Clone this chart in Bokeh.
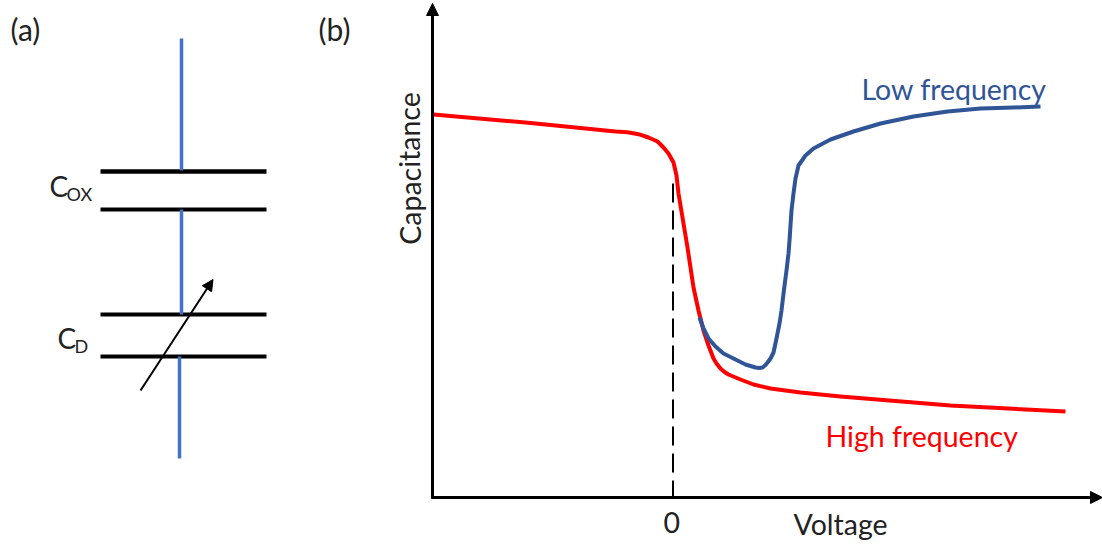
from bokeh.plotting import figure
from bokeh.embed import file_html
from bokeh.resources import INLINE
from bokeh.models import Range1d, Arrow, NormalHead
from bokeh.core.properties import value

# Picture-space values (voltage to the right, capacitance up = smaller y)
high_x = [433, 525, 615, 627, 638, 648, 657, 663, 668, 673, 676, 678, 682, 687, 693, 698, 703, 708, 713, 716, 720, 724, 728, 740, 753, 770, 800, 840, 950, 1065]
high_y = [114, 122, 131, 131.7, 133.7, 137, 141, 147, 153, 162, 175, 193, 217, 247, 287, 310, 330, 345, 358, 363, 368, 371.5, 374, 379, 384, 388, 392, 396, 405, 411]
low_x = [699, 703, 708, 715, 723, 733, 745, 755, 759, 762, 765, 767, 770, 773, 776, 779, 781, 783, 786, 788, 789, 790, 791, 793, 795, 798, 805, 813, 830, 853, 880, 913, 947, 980, 1013, 1040]
low_y = [317, 328, 338, 346, 353, 358, 364, 367, 367.5, 367, 364.5, 362, 358, 352, 338, 323, 310, 293, 270, 253, 240, 225, 210, 193, 178, 165, 155, 148, 139, 131, 123, 116, 111, 108, 107, 106]
zero_x = [672.5, 672.5]
zero_y = [183, 497]
plate_x = [[100, 266], [100, 266], [100, 266], [100, 266]]
plate_y = [[171, 171], [209, 209], [314, 314], [356, 356]]
plate_w = [4.5, 4, 4, 4]
wire_x = [[181, 181], [181, 181], [179, 179]]
wire_y = [[38, 170], [209, 314], [356, 458]]
labels = ["Voltage", "0", "Low frequency", "High frequency"]
label_x = [793, 663, 861, 825]
label_y = [523, 522, 88, 435]
label_c = ["#222222", "#222222", "#2F5597", "#FF0000"]
panels = ["(a)", "(b)"]
panel_x = [10, 318]
panel_y = [28, 28]

FONT = value("Lato")
p = figure(width=1102, height=550, output_backend="svg", toolbar_location=None,
           x_range=Range1d(0, 1102), y_range=Range1d(550, 0), min_border=0)
p.xaxis.visible = False
p.yaxis.visible = False
p.grid.visible = False
p.outline_line_color = None

# (a) circuit
for xs, ys, w in zip(plate_x, plate_y, plate_w):
    p.line(xs, ys, line_color="black", line_width=w)
p.multi_line(wire_x, wire_y, line_color="#4472C4", line_width=3.5)
p.add_layout(Arrow(end=NormalHead(size=11, fill_color="black", line_color="black"),
                   x_start=140, y_start=390, x_end=212.5, y_end=279,
                   line_color="black", line_width=2))

# (b) axes
p.add_layout(Arrow(end=NormalHead(size=12, fill_color="black", line_color="black"),
                   x_start=432, y_start=498, x_end=432, y_end=3,
                   line_color="black", line_width=3))
p.add_layout(Arrow(end=NormalHead(size=12, fill_color="black", line_color="black"),
                   x_start=431, y_start=497, x_end=1102, y_end=497,
                   line_color="black", line_width=3))
p.line(zero_x, zero_y, line_color="black", line_width=2, line_dash="19 8")

# curves
p.line(high_x, high_y, line_color="#FF0000", line_width=4, line_join="round")
p.line(low_x, low_y, line_color="#2F5597", line_width=4, line_join="round")

# texts
p.text(label_x, label_y, text=labels, text_color=label_c, text_font=FONT,
       text_font_size="28.5px", text_baseline="middle", text_align="left")
p.text(panel_x, panel_y, text=panels, text_color="#222222", text_font=FONT,
       text_font_size="30px", text_baseline="middle", text_align="left")
p.text([409], [168], text=["Capacitance"], text_color="#222222", text_font=FONT,
       text_font_size="28.5px", text_baseline="middle", text_align="center", angle=1.5708)
p.text([49, 57], [185, 337], text=["C", "C"], text_color="#222222", text_font=FONT,
       text_font_size="28px", text_baseline="middle", text_align="left")
p.text([66, 74], [193, 345], text=["OX", "D"], text_color="#222222", text_font=FONT,
       text_font_size="18px", text_baseline="middle", text_align="left")

open("out.html", "w").write(file_html(p, INLINE))
